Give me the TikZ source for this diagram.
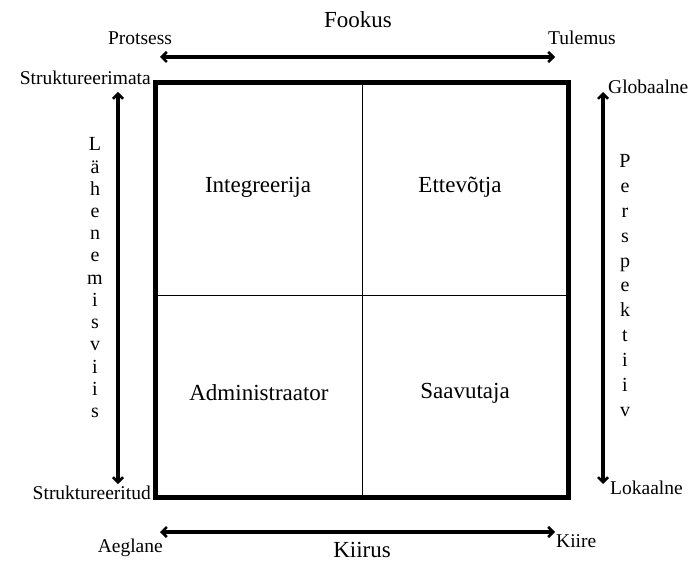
\documentclass[tikz,border=0pt]{standalone}
\usepackage{fontspec}
\setmainfont{Liberation Serif}
\usetikzlibrary{arrows.meta}
\begin{document}
\begin{tikzpicture}[x=1pt,y=-1pt,
  frame/.style={line width=5pt},
  divider/.style={line width=0.8pt},
  axis/.style={line width=4pt,{Straight Barb[length=5pt,width=10pt,line width=2.5pt]}-{Straight Barb[length=5pt,width=10pt,line width=2.5pt]}},
  small/.style={font=\fontsize{19.5}{21}\selectfont,inner sep=0pt},
  quad/.style={font=\fontsize{23}{25}\selectfont,inner sep=0pt},
  vlet/.style={font=\fontsize{20}{22}\selectfont,inner sep=0pt,anchor=base},
  title/.style={font=\fontsize{23}{25}\selectfont,inner sep=0pt}]
\useasboundingbox (0,0) rectangle (696,561);
\draw[frame] (155,83) rectangle (568,497);
\coordinate (tm) at (362,83);
\coordinate (bm) at (362,497);
\coordinate (lm) at (155,295);
\coordinate (rm) at (568,295);
\draw[divider] (tm) -- (bm);
\draw[divider] (lm) -- (rm);
% quadrant labels
\node[quad] (q1) at (258,187) {Integreerija};
\node[quad] (q2) at (460,187) {Ettevõtja};
\node[quad] (q3) at (259,393) {Administraator};
\node[quad] (q4) at (465,393) {Saavutaja};
% top axis
\coordinate (ta) at (160,57);
\coordinate (tb) at (555,57);
\draw[axis] (ta) -- (tb);
\node[title] (fookus) at (358,20) {Fookus};
\node[small] (prot) at (140,38) {Protsess};
\node[small] (tul) at (582,38) {Tulemus};
% bottom axis
\coordinate (ba) at (160,532);
\coordinate (bb) at (555,532);
\draw[axis] (ba) -- (bb);
\node[title] (kiirus) at (362,550) {Kiirus};
\node[small,anchor=east] (aeg) at (163,548) {Aeglane};
\node[small,anchor=west] (kiire) at (556,541) {Kiire};
% left axis
\coordinate (la) at (118,92);
\coordinate (lb) at (118,484);
\draw[axis] (la) -- (lb);
\node[small,anchor=east] (strA) at (151,78) {Struktureerimata};
\node[small,anchor=east] (strB) at (151,493) {Struktureeritud};
\foreach \c [count=\i from 0] in {L,ä,h,e,n,e,m,i,s,v,i,i,s}
  \node[vlet] (lv\i) at (95,151+22.2*\i) {\c};
% right axis
\coordinate (ra) at (603,92);
\coordinate (rb) at (603,484);
\draw[axis] (ra) -- (rb);
\node[small,anchor=west] (glob) at (608,87) {Globaalne};
\node[small,anchor=west] (lok) at (610,488) {Lokaalne};
\foreach \c [count=\i from 0] in {P,e,r,s,p,e,k,t,i,i,v}
  \node[vlet] (rv\i) at (625,168+24.8*\i) {\c};
\end{tikzpicture}
\end{document}
